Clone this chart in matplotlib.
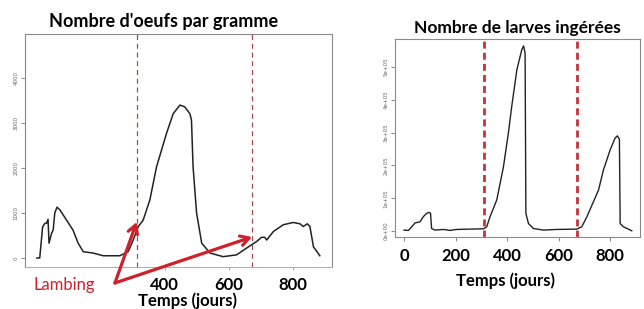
import matplotlib.pyplot as plt
import numpy as np

# oeufs par gramme (panneau gauche)
jours_oeufs = [0, 9, 18, 25, 30, 35, 38, 46, 51, 56, 63, 72, 93, 113, 129, 145, 176, 207,
               259, 285, 301, 317, 332, 353, 374, 405, 426, 447, 462, 478, 483, 488, 499,
               515, 541, 582, 624, 655, 687, 702, 712, 718, 739, 770, 801, 822, 832, 845,
               853, 864, 884]
oeufs = [0, 0, 690, 770, 770, 860, 330, 550, 620, 1000, 1130, 1070, 840, 620, 330, 140,
         110, 50, 50, 140, 400, 700, 840, 1290, 2030, 2770, 3210, 3400, 3360, 3210, 3070,
         2030, 1000, 330, 110, 30, 70, 220, 370, 460, 460, 400, 590, 740, 790, 760, 700,
         760, 700, 250, 50]

# larves ingérées (panneau droit)
jours_larves = [0, 17, 30, 43, 62, 75, 88, 98, 103, 107, 120, 153, 178, 204, 256, 308,
                321, 334, 360, 386, 405, 418, 438, 457, 464, 470, 473, 483, 502, 541, 593,
                670, 690, 710, 735, 755, 774, 800, 819, 828, 836, 839, 852, 884]
larves = [3000, 2000, 13000, 25000, 28000, 44000, 54000, 57000, 54000, 8000, 3000, 5000,
          2000, 5000, 6000, 7000, 13000, 44000, 95000, 196000, 298000, 379000, 491000,
          552000, 564000, 542000, 54000, 23000, 8000, 3000, 5000, 6000, 13000, 44000,
          89000, 125000, 186000, 247000, 283000, 290000, 280000, 23000, 13000, 1000]

agnelages = [312, 672]
ticks_oeufs = [0, 1000, 2000, 3000, 4000]
ticks_larves = [0, 100000, 200000, 300000, 400000, 500000]
labels_larves = ['0e+00', '1e+05', '2e+05', '3e+05', '4e+05', '5e+05']

fam = ['Lato', 'DejaVu Sans']
W, H = 644, 309
fig = plt.figure(figsize=(W / 100, H / 100), dpi=100)

def box(l, t, r, b):
    return [l / W, 1 - b / H, (r - l) / W, (b - t) / H]

def style(ax):
    for s in ax.spines.values():
        s.set_color('#8a8a8a')
        s.set_linewidth(0.8)
    ax.tick_params(axis='y', length=3, width=0.6, color='#777777', labelsize=4,
                   labelcolor='#666666', pad=1.5)
    for lab in ax.get_yticklabels():
        lab.set_rotation(90)
        lab.set_va('center')

# --- gauche
ax1 = fig.add_axes(box(25, 34, 332, 267))
ax1.plot(jours_oeufs, oeufs, color='#222222', lw=1.1)
for j in agnelages:
    ax1.axvline(j, color='#a8484c', lw=0.9, ls=(0, (4, 3)))
ax1.set_xlim(-37, 922)
ax1.set_ylim(-200, 4980)
ax1.set_yticks(ticks_oeufs)
ax1.set_yticklabels([str(v) for v in ticks_oeufs])
ax1.set_xticks([400, 600, 800])
ax1.set_xticklabels(['400', '600', '800'], fontsize=12, fontweight='bold', family=fam)
ax1.tick_params(axis='x', length=2, width=0.6, color='#999999', pad=5)
style(ax1)
ax1.spines['bottom'].set_color('#b0b0b0')
ax1.set_title("Nombre d'oeufs par gramme", fontsize=13, fontweight='bold', family=fam,
              pad=5, x=0.45)
ax1.set_xlabel('Temps (jours)', fontsize=12, fontweight='bold', family=fam, labelpad=0,
               x=0.53)

rouge = '#d0202c'
for j, v in [(312, 800), (672, 467)]:
    ax1.annotate('', xy=(j, v), xytext=(244, -555), annotation_clip=False,
                 arrowprops=dict(arrowstyle='->,head_length=0.6,head_width=0.35',
                                 color=rouge, lw=2.3, shrinkA=0, shrinkB=0))
fig.text(64 / W, 1 - 285 / H, 'Lambing', color=rouge, fontsize=12, family=fam,
         ha='center', va='center')

# --- droite
ax2 = fig.add_axes(box(395, 39, 640, 237))
ax2.plot(jours_larves, larves, color='#222222', lw=1.0)
for j in agnelages:
    ax2.axvline(j, color='#c0343a', lw=2.0, ls=(0, (2.5, 1.5)))
ax2.set_xlim(-35, 916)
ax2.set_ylim(-18000, 585000)
ax2.set_yticks(ticks_larves)
ax2.set_yticklabels(labels_larves)
ax2.set_xticks([0, 200, 400, 600, 800])
ax2.set_xticklabels(['0', '200', '400', '600', '800'], fontsize=12, fontweight='bold',
                    family=fam)
ax2.tick_params(axis='x', length=3, width=0.6, color='#777777', pad=5)
style(ax2)
ax2.set_title('Nombre de larves ingérées', fontsize=12.5, fontweight='bold', family=fam,
              pad=4, x=0.5)
ax2.set_xlabel('Temps (jours)', fontsize=12, fontweight='bold', family=fam, labelpad=6,
               x=0.45)

fig.savefig('out.png', dpi=100)
